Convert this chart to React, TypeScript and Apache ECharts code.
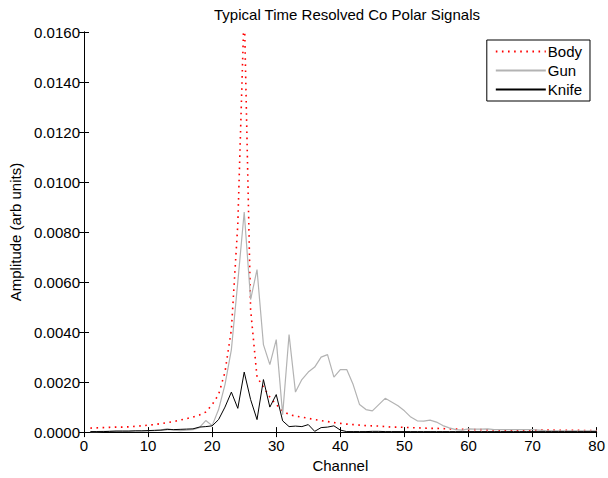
import * as echarts from "echarts";
import { useEffect, useRef } from "react";

const channels = Array.from({ length: 80 }, (_, i) => i + 1);

const bodyValues = [
  0.00016, 0.00017, 0.00018, 0.00019, 0.0002, 0.0002, 0.00021, 0.00023, 0.00025, 0.00028,
  0.0003, 0.00034, 0.00038, 0.00042, 0.00048, 0.00054, 0.0006, 0.00068, 0.0008, 0.0011,
  0.0015, 0.0024, 0.0041, 0.0083, 0.017, 0.0049, 0.0022, 0.0018, 0.0014, 0.0011,
  0.00085, 0.0007, 0.00064, 0.0006, 0.00055, 0.0005, 0.00046, 0.00042, 0.00038, 0.00035,
  0.00032, 0.0003, 0.00028, 0.00026, 0.00025, 0.00024, 0.00022, 0.0002, 0.0002, 0.00019,
  0.00018, 0.00017, 0.00016, 0.00015, 0.00015, 0.00014, 0.00013, 0.00012, 0.00011, 0.0001,
  0.0001, 0.0001, 0.00009, 0.00009, 0.00008, 0.00008, 0.00008, 0.00008, 0.00008, 0.00008,
  0.00008, 0.00008, 0.00008, 0.00007, 0.00007, 0.00007, 0.00007, 0.00006, 0.00006, 0.00006,
];

const gunValues = [
  0.00002, 0.00002, 0.00003, 0.00003, 0.00004, 0.00004, 0.00004, 0.00005, 0.00005, 0.00005,
  0.00006, 0.00008, 0.00014, 0.00008, 0.00006, 0.00008, 0.0001, 0.00018, 0.00046, 0.00026,
  0.0009, 0.0019, 0.0033, 0.006, 0.0088, 0.0053, 0.0065, 0.0035, 0.0027, 0.0037,
  0.0007, 0.0039, 0.0016, 0.0021, 0.0024, 0.0026, 0.003, 0.0031, 0.0022, 0.0025,
  0.0025, 0.0019, 0.0011, 0.0009, 0.00085, 0.0011, 0.00135, 0.0012, 0.00105, 0.00085,
  0.0006, 0.00045, 0.00044, 0.00048, 0.0004, 0.00026, 0.00017, 0.0001, 0.00008, 0.00013,
  0.00012, 0.00012, 0.00013, 0.0001, 0.0001, 0.0001, 0.0001, 0.0001, 0.0001, 0.0001,
  0.00008, 0.00006, 0.00005, 0.00005, 0.00005, 0.00005, 0.00005, 0.00005, 0.00005, 0.00005,
];

const knifeValues = [
  0.00002, 0.00002, 0.00002, 0.00003, 0.00004, 0.00004, 0.00004, 0.00005, 0.00005, 0.00006,
  0.00007, 0.00008, 0.0001, 0.0001, 0.00011, 0.00012, 0.00013, 0.0002, 0.00022, 0.00025,
  0.0005, 0.001, 0.0016, 0.00095, 0.0024, 0.0013, 0.0005, 0.0021, 0.001, 0.0015,
  0.00045, 0.00022, 0.00024, 0.00022, 0.0003, 0.00003, 0.00018, 0.0002, 0.00025, 0.00008,
  0.00002, 0.00002, 0.00002, 0.00002, 0.00003, 0.00003, 0.00002, 0.00002, 0.00002, 0.00002,
  0.00002, 0.00002, 0.00002, 0.00002, 0.00002, 0.00002, 0.00002, 0.00002, 0.00002, 0.00002,
  0.00002, 0.00002, 0.00002, 0.00002, 0.00002, 0.00002, 0.00002, 0.00002, 0.00002, 0.00002,
  0.00002, 0.00002, 0.00002, 0.00002, 0.00002, 0.00002, 0.00002, 0.00002, 0.00002, 0.00002,
];

const seriesNames = ["Body", "Gun", "Knife"];

const FONT = "'Liberation Sans', Arial, Helvetica, sans-serif";
const FONT_SIZE = 15;

const pairs = (values: number[]) => channels.map((c, i) => [c, values[i]]);

export default function App() {
  const chartRef = useRef<HTMLDivElement | null>(null);

  useEffect(() => {
    if (!chartRef.current) return;
    const chart = echarts.init(chartRef.current, undefined, { renderer: "svg" });

    const axisLine = { show: true, lineStyle: { color: "#000", width: 1 } };
    const axisTick = { show: true, inside: true, length: 5, lineStyle: { color: "#000" } };
    const axisLabel = { color: "#000", fontSize: FONT_SIZE, fontFamily: FONT };
    const nameStyle = { color: "#000", fontSize: FONT_SIZE, fontFamily: FONT };

    chart.setOption({
      animation: false,
      backgroundColor: "#fff",
      textStyle: { fontFamily: FONT },
      title: {
        text: "Typical Time Resolved Co Polar Signals",
        left: 342,
        top: 2,
        textAlign: "center",
        textStyle: { fontSize: FONT_SIZE, fontWeight: "normal", color: "#000", fontFamily: FONT },
      },
      grid: { left: 84, right: 9, top: 32, bottom: 42 },
      legend: {
        orient: "vertical",
        right: 18,
        top: 40,
        data: seriesNames,
        borderColor: "#000",
        borderWidth: 1,
        borderRadius: 0,
        backgroundColor: "#fff",
        padding: [4, 8, 4, 8],
        itemGap: 4,
        itemWidth: 50,
        itemHeight: 15,
        itemStyle: { opacity: 0 },
        textStyle: { color: "#000", fontSize: FONT_SIZE, fontFamily: FONT, padding: [0, 0, 0, -3] },
      },
      xAxis: [
        {
          type: "value",
          min: 0,
          max: 80,
          interval: 10,
          position: "bottom",
          axisLine,
          axisTick,
          axisLabel: { ...axisLabel, margin: 6 },
          splitLine: { show: false },
          name: "Channel",
          nameLocation: "middle",
          nameGap: 25,
          nameTextStyle: nameStyle,
        },
        {
          type: "value",
          min: 0,
          max: 80,
          interval: 10,
          position: "top",
          axisLine,
          axisTick,
          axisLabel: { show: false },
          splitLine: { show: false },
        },
      ],
      yAxis: [
        {
          type: "value",
          min: 0,
          max: 0.016,
          interval: 0.002,
          position: "left",
          axisLine,
          axisTick,
          axisLabel: { ...axisLabel, margin: 4, formatter: (v: number) => v.toFixed(4) },
          splitLine: { show: false },
          name: "Amplitude (arb units)",
          nameLocation: "middle",
          nameRotate: 90,
          nameGap: 60,
          nameTextStyle: nameStyle,
        },
        {
          type: "value",
          min: 0,
          max: 0.016,
          interval: 0.002,
          position: "right",
          axisLine,
          axisTick,
          axisLabel: { show: false },
          splitLine: { show: false },
        },
      ],
      series: [
        {
          name: "Body",
          type: "line",
          symbol: "none",
          clip: true,
          data: pairs(bodyValues),
          lineStyle: { color: "#ff0000", width: 1.6, type: [1.6, 4.5] },
          itemStyle: { color: "#ff0000" },
        },
        {
          name: "Gun",
          type: "line",
          symbol: "none",
          clip: true,
          data: pairs(gunValues),
          lineStyle: { color: "#b3b3b3", width: 1.2 },
          itemStyle: { color: "#b3b3b3" },
        },
        {
          name: "Knife",
          type: "line",
          symbol: "none",
          clip: true,
          data: pairs(knifeValues),
          lineStyle: { color: "#000", width: 1 },
          itemStyle: { color: "#000" },
        },
      ],
    });

    return () => {
      chart.dispose();
    };
  }, []);

  return (
    <div
      ref={chartRef}
      style={{ position: "absolute", left: 0, top: 0, width: 608, height: 478 }}
    />
  );
}
